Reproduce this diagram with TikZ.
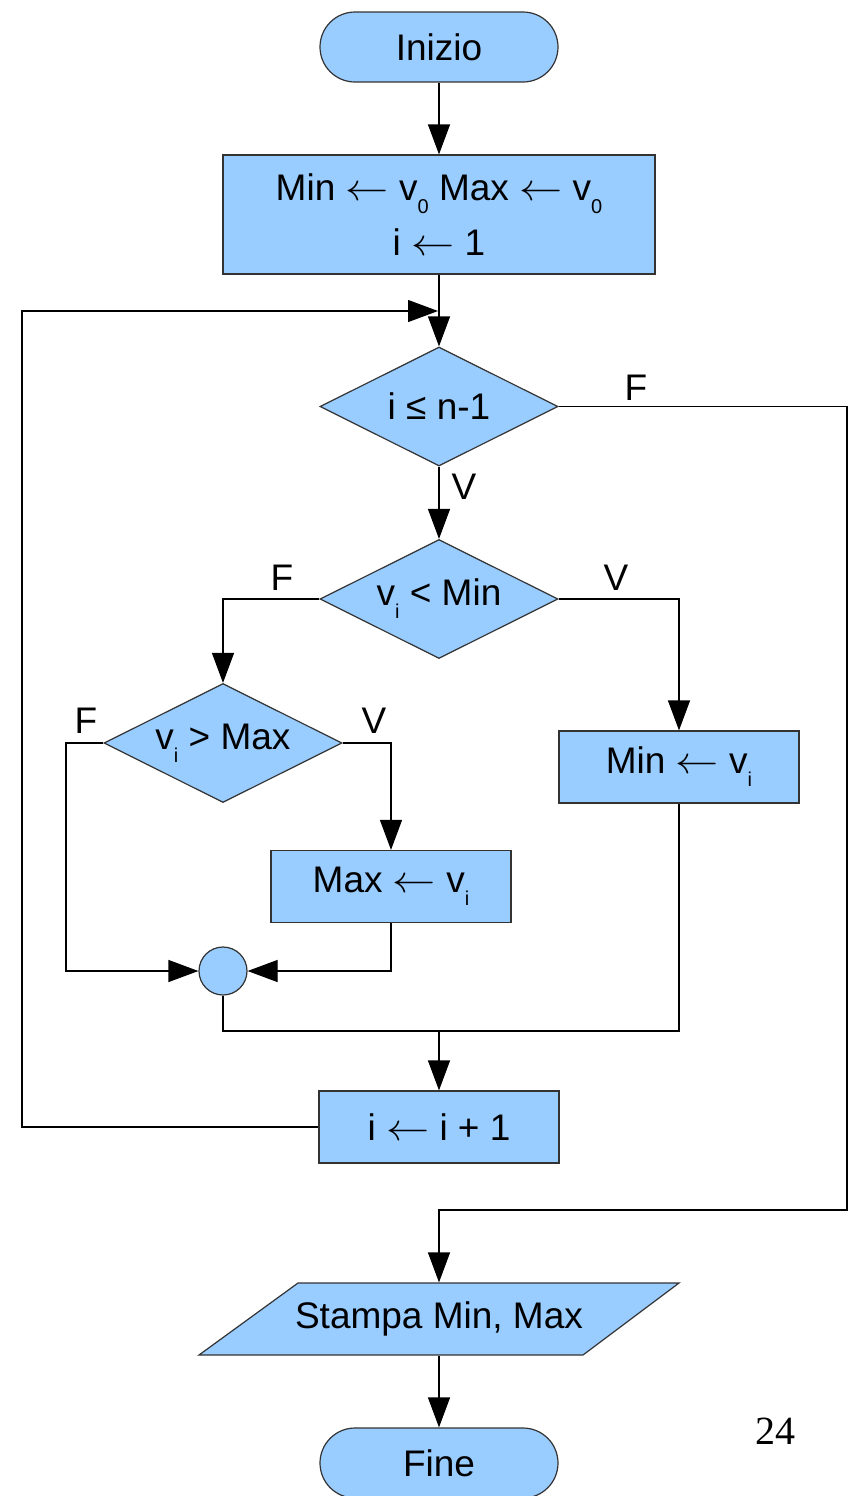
\documentclass[tikz,border=0pt]{standalone}
\usepackage{fontspec}
\usepackage{graphicx}
\setmainfont{Liberation Sans}
\newfontfamily\pagefont{Liberation Serif}
\usetikzlibrary{arrows.meta,shapes.geometric}
\definecolor{fillblue}{HTML}{99CCFF}
\definecolor{edgegrey}{HTML}{333333}
\newcommand\lowsub[1]{\raisebox{-6.5pt}{\fontsize{10}{10}\selectfont #1}}
\newcommand\larr{\scalebox{1.25}[1.1]{$\leftarrow$}}
\tikzset{
  base/.style={draw=edgegrey, fill=fillblue, line width=0.6pt, inner sep=0pt, align=center,
    font=\fontsize{18.5}{26.5}\selectfont},
  proc/.style={base, rectangle, minimum width=120pt, minimum height=36pt},
  term/.style={base, rectangle, rounded corners=17.5pt, minimum width=119pt, minimum height=35pt},
  dec/.style={base, diamond, shape aspect=2, minimum width=119pt, minimum height=59.5pt},
  conn/.style={base, circle, minimum size=24pt},
  lbl/.style={font=\fontsize{18.5}{20}\selectfont, inner sep=0pt},
  line/.style={draw=black, line width=0.6pt},
  arr/.style={line, -{Triangle[length=15pt,width=11pt]}}
}
\begin{document}
\begin{tikzpicture}[x=0.5pt,y=-0.5pt]
\useasboundingbox (0,0) rectangle (853,1496);
\node[term] (start) at (439,47) {Inizio};
\node[proc, minimum width=216pt, minimum height=59.5pt] (init) at (439,214.5)
  {Min \larr{} v\lowsub{0} Max \larr{} v\lowsub{0}\\[1pt] i \larr{} 1};
\node[dec] (d1) at (439,406.5) {i ≤ n-1};
\node[dec] (d2) at (439,599) {v\lowsub{i} < Min};
\node[dec] (d3) at (223,743) {v\lowsub{i} > Max};
\node[proc] (setmin) at (679,767) {Min \larr{} v\lowsub{i}};
\node[proc] (setmax) at (391,886.5) {Max \larr{} v\lowsub{i}};
\node[conn] (join) at (223,971) {};
\node[proc] (inc) at (439,1127) {i \larr{} i + 1};
\node[base, draw=none, fill=none, minimum width=240pt, minimum height=36pt] (out) at (439,1319) {};
\filldraw[draw=edgegrey, fill=fillblue, line width=0.6pt] (199,1355) -- (298,1283) -- (679,1283) -- (583,1355) -- cycle;
\node[lbl] (outtext) at (439,1319) {Stampa Min, Max};
\node[term] (stop) at (439,1463) {Fine};
\node[font=\pagefont\fontsize{20}{20}\selectfont, inner sep=0pt] (pagenum) at (775,1431) {24};
% coordinates
\coordinate (loopL) at (22,311);
\coordinate (loopEnd) at (438,311);
\coordinate (rightR) at (847,1210);
\coordinate (leftF) at (66,971);
\coordinate (merge) at (439,1031);
% connectors
\draw[arr] (start.south) -- (init.north);
\draw[arr] (init.south) -- (d1.north);
\draw[arr] (inc.west) -| (loopL) -- (loopEnd);
\draw[arr] (d1.east) -| (rightR) -| (out.north);
\draw[arr] (d1.south) -- (d2.north);
\draw[arr] (d2.west) -| (d3.north);
\draw[arr] (d2.east) -| (setmin.north);
\draw[arr] (d3.west) -| (leftF) -- (join.west);
\draw[arr] (d3.east) -| (setmax.north);
\draw[arr] (setmax.south) |- (join.east);
\draw[line] (join.south) |- (merge) -| (setmin.south);
\draw[arr] (merge) -- (inc.north);
\draw[arr] (out.south) -- (stop.north);
% labels
\node[lbl] (lf1) at (636,388) {F};
\node[lbl] (lv1) at (464,487) {V};
\node[lbl] (lf2) at (282,578) {F};
\node[lbl] (lv2) at (616,578) {V};
\node[lbl] (lf3) at (86,721) {F};
\node[lbl] (lv3) at (374,721) {V};
\end{tikzpicture}
\end{document}
